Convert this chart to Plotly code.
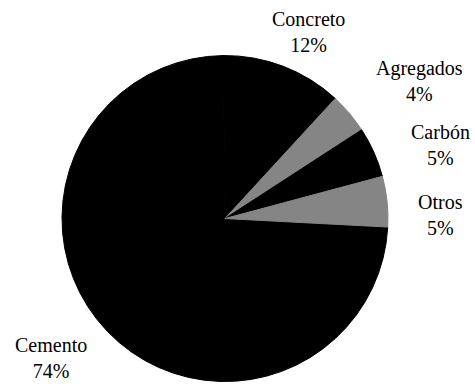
import plotly.graph_objects as go

labels = ["Cemento", "Concreto", "Agregados", "Carbón", "Otros"]
values = [74, 12, 4, 5, 5]
colors = ["#000000", "#000000", "#858585", "#000000", "#858585"]
# label block centres (pixels)
label_x = [51, 308, 419, 440, 440]
label_y = [358, 32, 81, 145, 215]

W, H = 475, 388
total = sum(values)

fig = go.Figure(go.Pie(
    labels=labels,
    values=values,
    sort=False,
    direction="clockwise",
    rotation=93,
    marker=dict(colors=colors, line=dict(color=colors, width=1)),
    textinfo="none",
    domain=dict(x=[0.1305, 0.8168], y=[0.0155, 0.858]),
    showlegend=False,
    hoverinfo="skip",
))

for lab, val, lx, ly in zip(labels, values, label_x, label_y):
    fig.add_annotation(
        x=lx / W, y=1 - ly / H, xref="paper", yref="paper",
        xanchor="center", yanchor="middle",
        text=f"{lab}<br>{round(100 * val / total)}%",
        showarrow=False,
        font=dict(family="Liberation Serif", size=20, color="#000000"),
    )

fig.update_layout(
    width=W, height=H,
    margin=dict(l=0, r=0, t=0, b=0),
    paper_bgcolor="white",
    plot_bgcolor="white",
)

fig.write_html("out.html")
